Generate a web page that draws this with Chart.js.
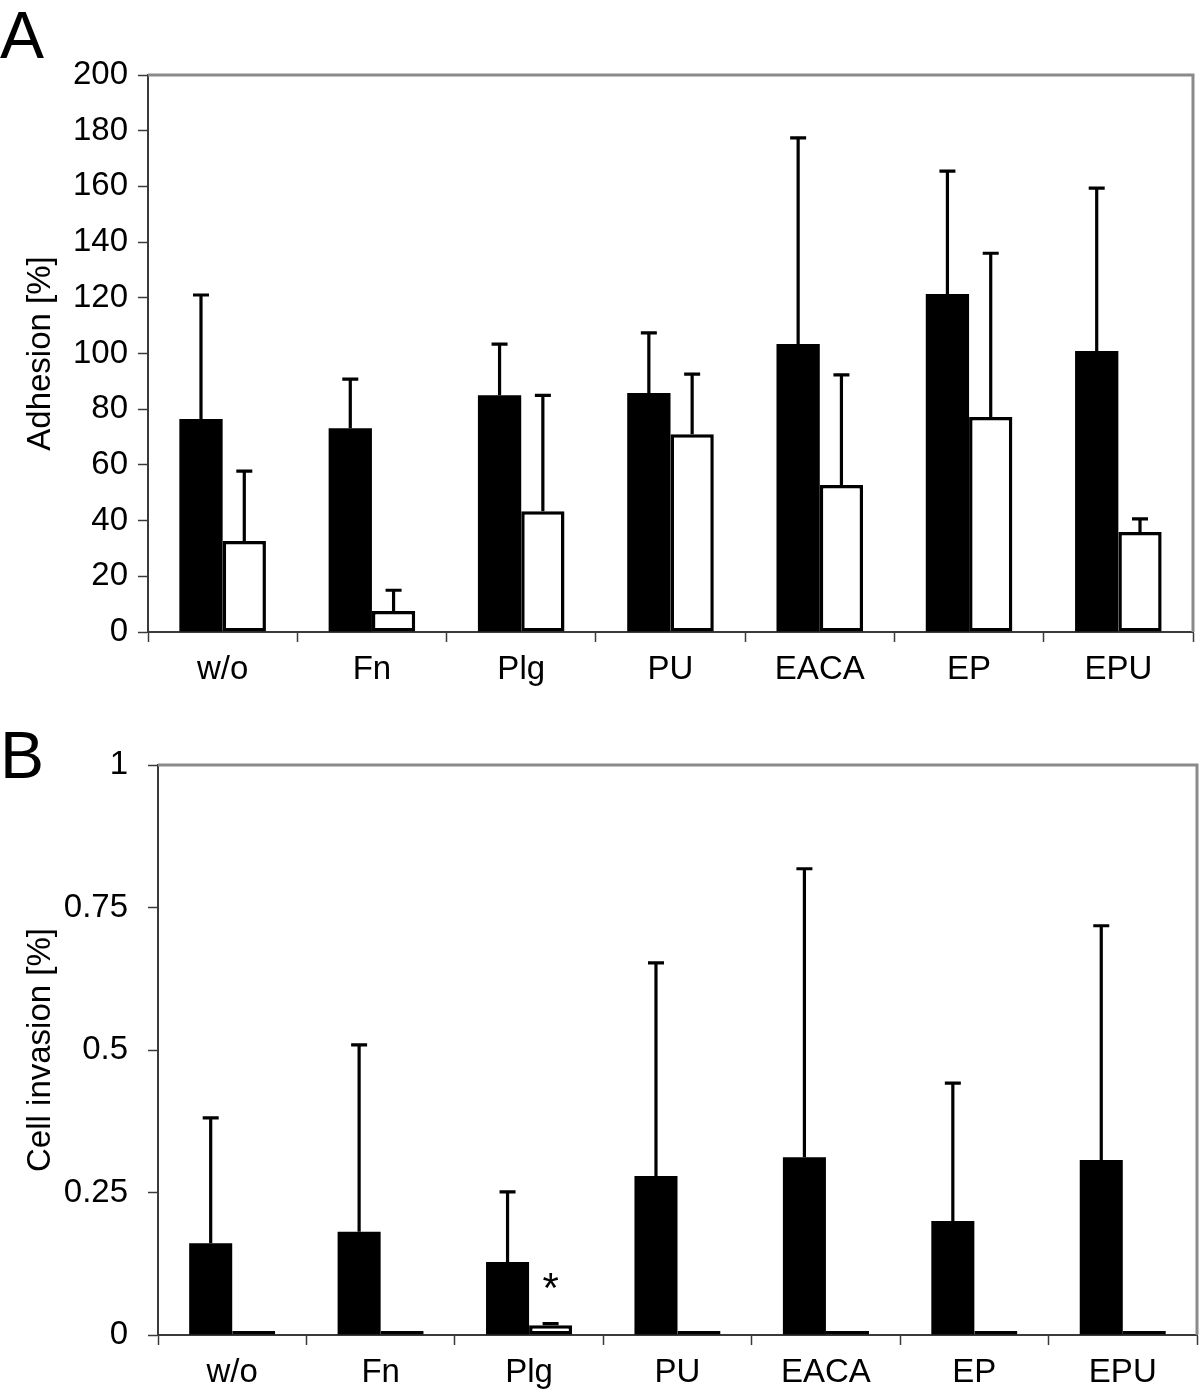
<!DOCTYPE html>
<html>
<head>
<meta charset="utf-8">
<script src="https://cdn.jsdelivr.net/npm/chart.js@4.4.1/dist/chart.umd.min.js"></script>
<style>
    body { margin: 0; background: #fff; }
    #page { position: relative; width: 1200px; height: 1393px; overflow: hidden; }
    canvas { position: absolute; left: 0; }
    .panel-letter {
        position: absolute; left: 0;
        font-family: "Liberation Sans", Arial, sans-serif;
        font-size: 66px; line-height: 66px; color: #000;
    }
</style>
</head>
<body>
<div id="page">
    <div class="panel-letter" style="top:2px">A</div>
    <div class="panel-letter" style="top:722px">B</div>
    <canvas id="adhesionChart" width="1200" height="700" style="top:0"></canvas>
    <canvas id="invasionChart" width="1200" height="693" style="top:700px"></canvas>
</div>
<script>
const categories = ['w/o', 'Fn', 'Plg', 'PU', 'EACA', 'EP', 'EPU'];

// panel A - adhesion [%]
const adhesionBlack = [76.5, 73.2, 85.0, 85.8, 103.4, 121.4, 100.9];
const adhesionBlackSD = [44.5, 17.6, 18.4, 21.6, 74.0, 44.1, 58.5];
const adhesionWhite = [32.7, 7.5, 43.4, 71.0, 52.8, 77.2, 35.9];
const adhesionWhiteSD = [25.1, 7.5, 41.6, 21.6, 39.5, 58.8, 4.7];
const adhesionTicks = [0, 20, 40, 60, 80, 100, 120, 140, 160, 180, 200];

// panel B - cell invasion [%]
const invasionBlack = [0.161, 0.181, 0.128, 0.279, 0.312, 0.200, 0.307];
const invasionBlackSD = [0.220, 0.328, 0.123, 0.374, 0.506, 0.242, 0.411];
const invasionWhite = [0.007, 0.007, 0.017, 0.007, 0.007, 0.007, 0.007];
const invasionWhiteSD = [0, 0, 0.003, 0, 0, 0, 0];
const invasionTicks = [0, 0.25, 0.5, 0.75, 1];

// significance marks: category, dataset index, value where the star sits
const invasionStars = [{ category: 'Plg', dataset: 1, value: 0.1 }];

const FONT = '"Liberation Sans", Arial, sans-serif';
const AXIS_COLOR = '#3a3a3a';

// upward-only error bars with caps
const errorBars = {
    id: 'errorBars',
    afterDatasetsDraw(chart) {
        const ctx = chart.ctx;
        const yScale = chart.scales.y;
        ctx.save();
        ctx.strokeStyle = '#000';
        ctx.lineWidth = 3.2;
        chart.data.datasets.forEach((ds, i) => {
            const meta = chart.getDatasetMeta(i);
            meta.data.forEach((bar, j) => {
                const sd = ds.errors[j];
                if (!sd) return;
                const yTop = yScale.getPixelForValue(ds.data[j] + sd);
                ctx.beginPath();
                ctx.moveTo(bar.x, bar.y);
                ctx.lineTo(bar.x, yTop);
                ctx.moveTo(bar.x - 8, yTop);
                ctx.lineTo(bar.x + 8, yTop);
                ctx.stroke();
            });
        });
        ctx.restore();
    }
};

// gray frame on top and right of the plot area
const plotFrame = {
    id: 'plotFrame',
    afterDraw(chart) {
        const { ctx, chartArea: a } = chart;
        ctx.save();
        ctx.strokeStyle = '#8a8a8a';
        ctx.lineWidth = 3;
        ctx.beginPath();
        ctx.moveTo(a.left, a.top);
        ctx.lineTo(a.right, a.top);
        ctx.lineTo(a.right, a.bottom);
        ctx.stroke();
        ctx.restore();
    }
};

const starMarks = {
    id: 'starMarks',
    afterDatasetsDraw(chart, args, opts) {
        const marks = opts.marks || [];
        const ctx = chart.ctx;
        ctx.save();
        ctx.fillStyle = '#000';
        ctx.font = '42px ' + FONT;
        ctx.textAlign = 'center';
        ctx.textBaseline = 'alphabetic';
        marks.forEach(m => {
            const bar = chart.getDatasetMeta(m.dataset).data[categories.indexOf(m.category)];
            const y = chart.scales.y.getPixelForValue(m.value);
            ctx.fillText('*', bar.x, y + 24);
        });
        ctx.restore();
    }
};

function makeChart(canvasId, cfg) {
    const ctx = document.getElementById(canvasId).getContext('2d');
    return new Chart(ctx, {
        type: 'bar',
        data: {
            labels: categories,
            datasets: [
                {
                    data: cfg.black,
                    errors: cfg.blackSD,
                    backgroundColor: '#000',
                    borderWidth: 0
                },
                {
                    data: cfg.white,
                    errors: cfg.whiteSD,
                    backgroundColor: '#fff',
                    borderColor: '#000',
                    borderWidth: 3.5,
                    borderSkipped: false
                }
            ]
        },
        options: {
            responsive: false,
            animation: false,
            categoryPercentage: 0.58,
            barPercentage: 1.0,
            layout: { padding: cfg.padding },
            plugins: {
                legend: { display: false },
                tooltip: { enabled: false },
                starMarks: { marks: cfg.stars || [] }
            },
            scales: {
                x: {
                    afterFit: s => { s.height = cfg.xHeight; },
                    grid: {
                        offset: true,
                        drawOnChartArea: false,
                        drawTicks: true,
                        tickLength: 10,
                        tickWidth: 1.5,
                        color: AXIS_COLOR
                    },
                    border: { color: AXIS_COLOR, width: 2 },
                    ticks: {
                        color: '#000',
                        padding: 8,
                        font: { family: FONT, size: 33 }
                    }
                },
                y: {
                    min: cfg.ticks[0],
                    max: cfg.ticks[cfg.ticks.length - 1],
                    afterFit: s => { s.width = cfg.yWidth; },
                    afterBuildTicks: s => { s.ticks = cfg.ticks.map(v => ({ value: v })); },
                    grid: {
                        drawOnChartArea: false,
                        drawTicks: true,
                        tickLength: 10,
                        tickWidth: 1.5,
                        color: AXIS_COLOR
                    },
                    border: { color: AXIS_COLOR, width: 2 },
                    ticks: {
                        color: '#000',
                        padding: cfg.yTickPad,
                        font: { family: FONT, size: 33 },
                        callback: v => String(v)
                    },
                    title: {
                        display: true,
                        text: cfg.title,
                        color: '#000',
                        font: { family: FONT, size: 33 },
                        padding: { top: 21, bottom: 0 }
                    }
                }
            }
        },
        plugins: [errorBars, plotFrame, starMarks]
    });
}

makeChart('adhesionChart', {
    black: adhesionBlack, blackSD: adhesionBlackSD,
    white: adhesionWhite, whiteSD: adhesionWhiteSD,
    ticks: adhesionTicks,
    title: 'Adhesion [%]',
    padding: { top: 75, right: 7, left: 0, bottom: 0 },
    xHeight: 68, yWidth: 148, yTickPad: 10
});

makeChart('invasionChart', {
    black: invasionBlack, blackSD: invasionBlackSD,
    white: invasionWhite, whiteSD: invasionWhiteSD,
    ticks: invasionTicks,
    title: 'Cell invasion [%]',
    stars: invasionStars,
    padding: { top: 65, right: 3, left: 0, bottom: 0 },
    xHeight: 58, yWidth: 158, yTickPad: 20
});
</script>
</body>
</html>
